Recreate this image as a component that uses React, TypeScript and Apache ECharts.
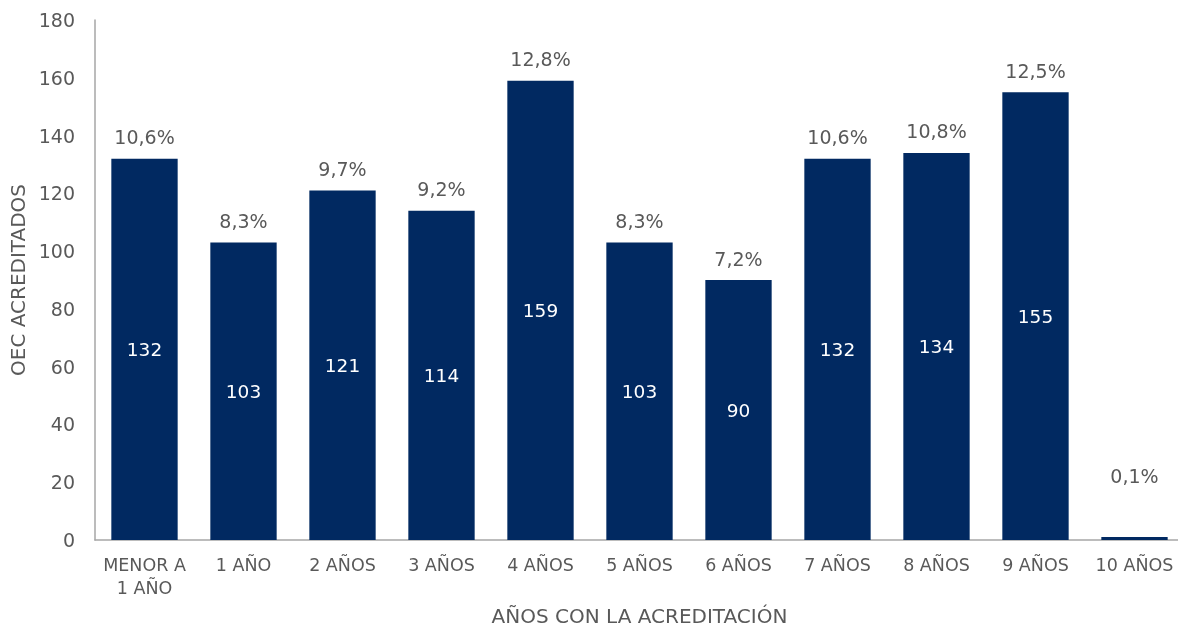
import React, { useEffect, useRef } from "react";
import * as echarts from "echarts";

const categories = ["MENOR A\n1 AÑO", "1 AÑO", "2 AÑOS", "3 AÑOS", "4 AÑOS", "5 AÑOS", "6 AÑOS", "7 AÑOS", "8 AÑOS", "9 AÑOS", "10 AÑOS"];
const counts = [132, 103, 121, 114, 159, 103, 90, 132, 134, 155, 1];
const percents = ["10,6%", "8,3%", "9,7%", "9,2%", "12,8%", "8,3%", "7,2%", "10,6%", "10,8%", "12,5%", "0,1%"];

const FONT = "DejaVu Sans";
const GRAY = "#595959";
const BAR = "#012961";

export default function App() {
  const ref = useRef<HTMLDivElement>(null);
  useEffect(() => {
    if (!ref.current) return;
    const chart = echarts.init(ref.current, null, { renderer: "svg" });
    chart.setOption({
      animation: false,
      textStyle: { fontFamily: FONT },
      grid: { left: 95, top: 20, width: 1089, height: 520, outerBoundsMode: "none", containLabel: false },
      xAxis: {
        type: "category",
        data: categories,
        name: "AÑOS CON LA ACREDITACIÓN",
        nameLocation: "middle",
        nameGap: 66,
        nameTextStyle: { color: GRAY, fontSize: 20, fontFamily: FONT },
        axisLine: { lineStyle: { color: "#a6a6a6", width: 1.5 } },
        axisTick: { show: false },
        axisLabel: { color: GRAY, fontSize: 17.5, margin: 13, interval: 0, lineHeight: 23, fontFamily: FONT },
      },
      yAxis: {
        type: "value",
        min: 0,
        max: 180,
        interval: 20,
        name: "OEC ACREDITADOS",
        nameLocation: "middle",
        nameGap: 64,
        nameTextStyle: { color: GRAY, fontSize: 20, fontFamily: FONT },
        axisLine: { show: true, lineStyle: { color: "#a6a6a6", width: 1.5 } },
        axisTick: { show: false },
        splitLine: { show: false },
        axisLabel: { color: GRAY, fontSize: 19, margin: 20, fontFamily: FONT },
      },
      series: [
        {
          type: "bar",
          data: counts,
          barCategoryGap: "33%",
          itemStyle: { color: BAR },
          label: {
            show: true,
            position: "inside",
            color: "#ffffff",
            fontSize: 18.5,
            fontFamily: FONT,
            formatter: (p: any) => (p.value > 5 ? String(p.value) : ""),
          },
        },
        {
          type: "bar",
          data: counts.map((v) => ({
            value: v,
            label: { distance: v < 5 ? 52 : 12 },
          })),
          barGap: "-100%",
          barCategoryGap: "33%",
          itemStyle: { color: "rgba(0,0,0,0)" },
          silent: true,
          label: {
            show: true,
            position: "top",
            color: GRAY,
            fontSize: 19,
            fontFamily: FONT,
            formatter: (p: any) => percents[p.dataIndex],
          },
        },
      ],
    });
    return () => chart.dispose();
  }, []);
  return <div ref={ref} style={{ position: "fixed", left: 0, top: 0, width: 1178, height: 630 }} />;
}
